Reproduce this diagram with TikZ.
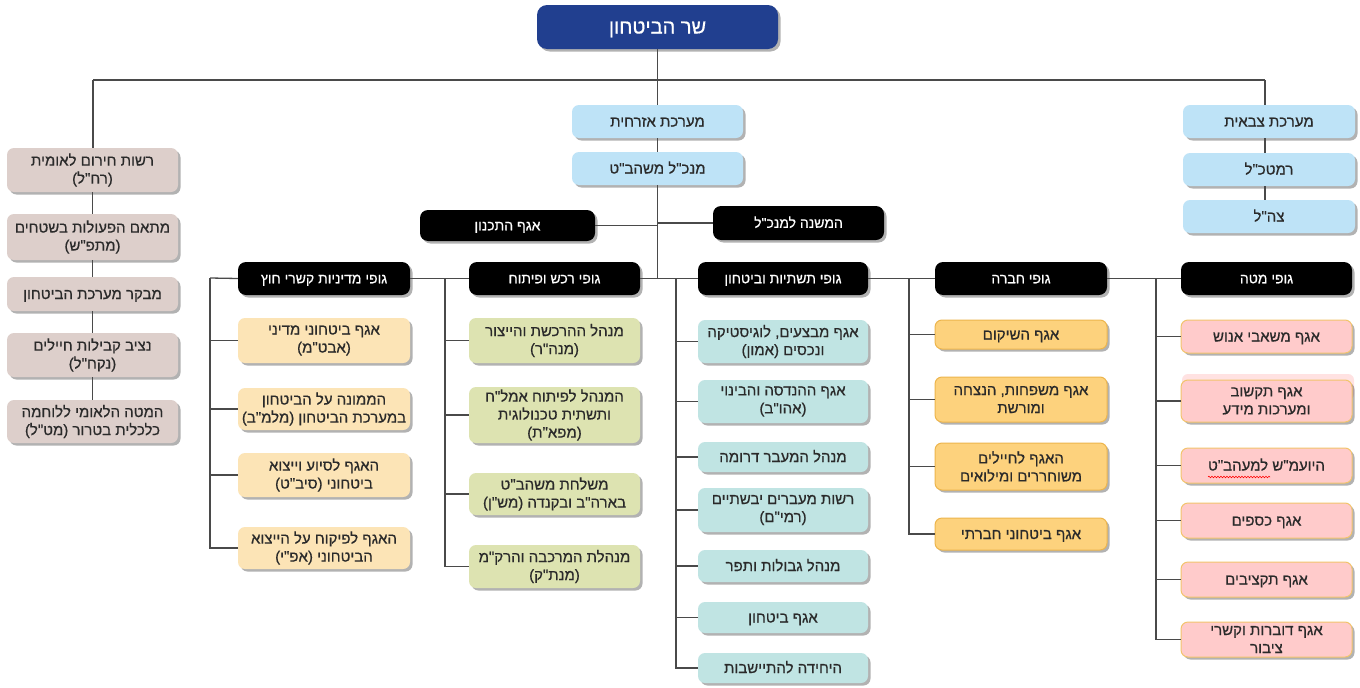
\documentclass[tikz,border=0pt]{standalone}
\usepackage{fontspec}
\setmainfont{Liberation Sans}
\newfontfamily\hebfont[Script=Hebrew,FakeBold=0.6]{Liberation Sans}
\TeXXeTstate=1
\usetikzlibrary{shadows,decorations.pathmorphing}
\newcommand{\hb}[1]{\beginR #1\endR}
\definecolor{minblue}{HTML}{213F8F}
\definecolor{skyb}{HTML}{BEE3F7}
\definecolor{taupe}{HTML}{DDCFCB}
\definecolor{beige}{HTML}{FCE4B6}
\definecolor{olive}{HTML}{DDE3B1}
\definecolor{teal}{HTML}{C0E4E3}
\definecolor{gold}{HTML}{FDD27D}
\definecolor{goldedge}{HTML}{EDB54C}
\definecolor{pinkb}{HTML}{FFCBCB}
\definecolor{pinkedge}{HTML}{F2C46C}
\definecolor{txt}{HTML}{2A2A2A}
\definecolor{linegray}{HTML}{4A4A4A}
\tikzset{
  box/.style={rounded corners=7pt, inner sep=0pt, align=center,
    font=\hebfont\fontsize{15}{18}\selectfont, text=txt,
    drop shadow={shadow xshift=2.5pt, shadow yshift=-2.5pt, opacity=0.3, fill=black}},
  one/.style={text height=10pt, text depth=0pt},
  topbox/.style={box, fill=minblue, text=white, font=\hebfont\fontsize{20}{24}\selectfont, rounded corners=10pt, text height=13pt, text depth=0pt},
  skybox/.style={box, fill=skyb},
  taupebox/.style={box, fill=taupe},
  blackbox/.style={box, fill=black, text=white, font=\hebfont\fontsize{14}{17}\selectfont, rounded corners=8pt, text height=9.5pt, text depth=0pt},
  beigebox/.style={box, fill=beige},
  olivebox/.style={box, fill=olive},
  tealbox/.style={box, fill=teal},
  goldbox/.style={box, fill=gold, draw=goldedge, line width=1pt},
  pinkbox/.style={box, fill=pinkb, draw=pinkedge, line width=1pt},
  conn/.style={draw=linegray, line width=1.3pt},
}
% style, name, x1, x2, y1, y2, text
\newcommand{\bx}[7]{%
  \node[#1, minimum width={(#4)-(#3)}, minimum height={(#6)-(#5)}] (#2) at ({((#3)+(#4))/2},{((#5)+(#6))/2}) {#7};}
\begin{document}
\begin{tikzpicture}[x=1pt,y=-1pt]
\useasboundingbox (0,0) rectangle (1360,688);
\fill[white] (0,0) rectangle (1360,688);

% top
\bx{topbox}{min}{537}{778}{5}{49}{\hb{שר הביטחון}}
% centre
\bx{skybox,one}{civ}{572}{743}{105}{138}{\hb{מערכת אזרחית}}
\bx{skybox,one}{dg}{572}{743}{152}{185}{\hb{מנכ"ל משהב"ט}}
\bx{blackbox}{plan}{420}{595}{210}{241}{\hb{אגף התכנון}}
\bx{blackbox}{dep}{713}{884}{206}{240}{\hb{המשנה למנכ"ל}}
% right column
\bx{skybox,one}{mil}{1183}{1355}{105}{138}{\hb{מערכת צבאית}}
\bx{skybox,one}{rmt}{1183}{1355}{153}{186}{\hb{רמטכ"ל}}
\bx{skybox,one}{idf}{1183}{1355}{200}{233}{\hb{צה"ל}}
% left column
\bx{taupebox}{l1}{7}{178}{148}{192}{\hb{רשות חירום לאומית}\\\hb{(רח"ל)}}
\bx{taupebox}{l2}{7}{178}{214}{260}{\hb{מתאם הפעולות בשטחים}\\\hb{(מתפ"ש)}}
\bx{taupebox,one}{l3}{7}{178}{277}{311}{\hb{מבקר מערכת הביטחון}}
\bx{taupebox}{l4}{7}{178}{333}{377}{\hb{נציב קבילות חיילים}\\\hb{(נקח"ל)}}
\bx{taupebox}{l5}{7}{178}{400}{443}{\hb{המטה הלאומי ללוחמה}\\\hb{כלכלית בטרור (מט"ל)}}
% headers
\bx{blackbox}{hA}{238}{410}{262}{295}{\hb{גופי מדיניות קשרי חוץ}}
\bx{blackbox}{hB}{469}{640}{262}{295}{\hb{גופי רכש ופיתוח}}
\bx{blackbox}{hC}{698}{868}{262}{295}{\hb{גופי תשתיות וביטחון}}
\bx{blackbox}{hD}{935}{1107}{262}{295}{\hb{גופי חברה}}
\bx{blackbox}{hE}{1181}{1352}{262}{295}{\hb{גופי מטה}}
% column A
\bx{beigebox}{a1}{238}{410}{318}{363}{\hb{אגף ביטחוני מדיני}\\\hb{(אבט"מ)}}
\bx{beigebox}{a2}{238}{410}{388}{430}{\hb{הממונה על הביטחון}\\\hb{במערכת הביטחון (מלמ"ב)}}
\bx{beigebox}{a3}{238}{410}{453}{497}{\hb{האגף לסיוע וייצוא}\\\hb{ביטחוני (סיב"ט)}}
\bx{beigebox}{a4}{238}{410}{527}{569}{\hb{האגף לפיקוח על הייצוא}\\\hb{הביטחוני (אפ"י)}}
% column B
\bx{olivebox}{b1}{469}{640}{318}{363}{\hb{מנהל ההרכשת והייצור}\\\hb{(מנה"ר)}}
\bx{olivebox}{b2}{469}{640}{387}{443}{\hb{המנהל לפיתוח אמל"ח}\\\hb{ותשתית טכנולוגית}\\\hb{(מפא"ת)}}
\bx{olivebox}{b3}{469}{640}{473}{515}{\hb{משלחת משהב"ט}\\\hb{בארה"ב ובקנדה (מש"ן)}}
\bx{olivebox}{b4}{469}{640}{545}{588}{\hb{מנהלת המרכבה והרק"מ}\\\hb{(מנת"ק)}}
% column C
\bx{tealbox}{c1}{698}{868}{320}{363}{\hb{אגף מבצעים, לוגיסטיקה}\\\hb{ונכסים (אמון)}}
\bx{tealbox}{c2}{698}{868}{380}{423}{\hb{אגף ההנדסה והבינוי}\\\hb{(אהו"ב)}}
\bx{tealbox,one}{c3}{698}{868}{442}{472}{\hb{מנהל המעבר דרומה}}
\bx{tealbox}{c4}{698}{868}{488}{532}{\hb{רשות מעברים יבשתיים}\\\hb{(רמי"ם)}}
\bx{tealbox,one}{c5}{698}{868}{550}{582}{\hb{מנהל גבולות ותפר}}
\bx{tealbox,one}{c6}{698}{868}{602}{633}{\hb{אגף ביטחון}}
\bx{tealbox,one}{c7}{698}{868}{653}{683}{\hb{היחידה להתיישבות}}
% column D
\bx{goldbox,one}{d1}{935}{1107}{320}{349}{\hb{אגף השיקום}}
\bx{goldbox}{d2}{935}{1107}{377}{422}{\hb{אגף משפחות, הנצחה}\\\hb{ומורשת}}
\bx{goldbox}{d3}{935}{1107}{443}{490}{\hb{האגף לחיילים}\\\hb{משוחררים ומילואים}}
\bx{goldbox,one}{d4}{935}{1107}{518}{550}{\hb{אגף ביטחוני חברתי}}
% column E
\bx{pinkbox,one}{e1}{1181}{1352}{320}{353}{\hb{אגף משאבי אנוש}}
\fill[pinkb!55, rounded corners=6pt] (1182,374) rectangle (1354,400);
\bx{pinkbox}{e2}{1181}{1352}{380}{422}{\hb{אגף תקשוב}\\\hb{ומערכות מידע}}
\bx{pinkbox,one}{e3}{1181}{1352}{448}{483}{\hb{היועמ"ש למעהב"ט}}
\bx{pinkbox,one}{e4}{1181}{1352}{503}{538}{\hb{אגף כספים}}
\bx{pinkbox,one}{e5}{1181}{1352}{562}{597}{\hb{אגף תקציבים}}
\bx{pinkbox}{e6}{1181}{1352}{622}{657}{\hb{אגף דוברות וקשרי}\\\hb{ציבור}}
\draw[red, line width=0.6pt, decorate, decoration={snake, amplitude=0.8pt, segment length=3pt}] (1208,477) -- (1270,477);

% connectors
\coordinate (hL) at (93,80);
\coordinate (hR) at (1265,80);
\draw[conn] (min.south) -- (civ.north);
\draw[conn] (hL) -- (hR);
\draw[conn] (hL) -- (hL |- l1.north);
\draw[conn] (l1.south) -- (l2.north);
\draw[conn] (l2.south) -- (l3.north);
\draw[conn] (l3.south) -- (l4.north);
\draw[conn] (l4.south) -- (l5.north);
\draw[conn] (hR) -- (hR |- mil.north);
\draw[conn] (mil.south -| hR) -- (rmt.north -| hR);
\draw[conn] (rmt.south -| hR) -- (idf.north -| hR);
\draw[conn] (civ.south) -- (dg.north);
\draw[conn] (dg.south) -- (dg.south |- hB.east);
\draw[conn] (plan.east) -- (plan.east -| dg.south);
\draw[conn] (dep.west) -- (dep.west -| dg.south);

\coordinate (vA) at (210,278);
\coordinate (vB) at (445,278);
\coordinate (vC) at (676,278);
\coordinate (vD) at (909,278);
\coordinate (vE) at (1156,278);
\draw[conn] (vA) -- (hA.west);
\draw[conn] (hA.east) -- (hB.west);
\draw[conn] (hB.east) -- (hC.west);
\draw[conn] (hC.east) -- (hD.west);
\draw[conn] (hD.east) -- (hE.west);

\draw[conn] (vA) |- (a4.west);
\foreach \n in {a1,a2,a3} \draw[conn] (\n.west) -- (\n.west -| vA);
\draw[conn] (vB) |- (b4.west);
\foreach \n in {b1,b2,b3} \draw[conn] (\n.west) -- (\n.west -| vB);
\draw[conn] (vC) |- (c7.west);
\foreach \n in {c1,c2,c3,c4,c5,c6} \draw[conn] (\n.west) -- (\n.west -| vC);
\draw[conn] (vD) |- (d4.west);
\foreach \n in {d1,d2,d3} \draw[conn] (\n.west) -- (\n.west -| vD);
\draw[conn] (vE) |- (e6.west);
\foreach \n in {e1,e2,e3,e4,e5} \draw[conn] (\n.west) -- (\n.west -| vE);
\end{tikzpicture}
\end{document}
